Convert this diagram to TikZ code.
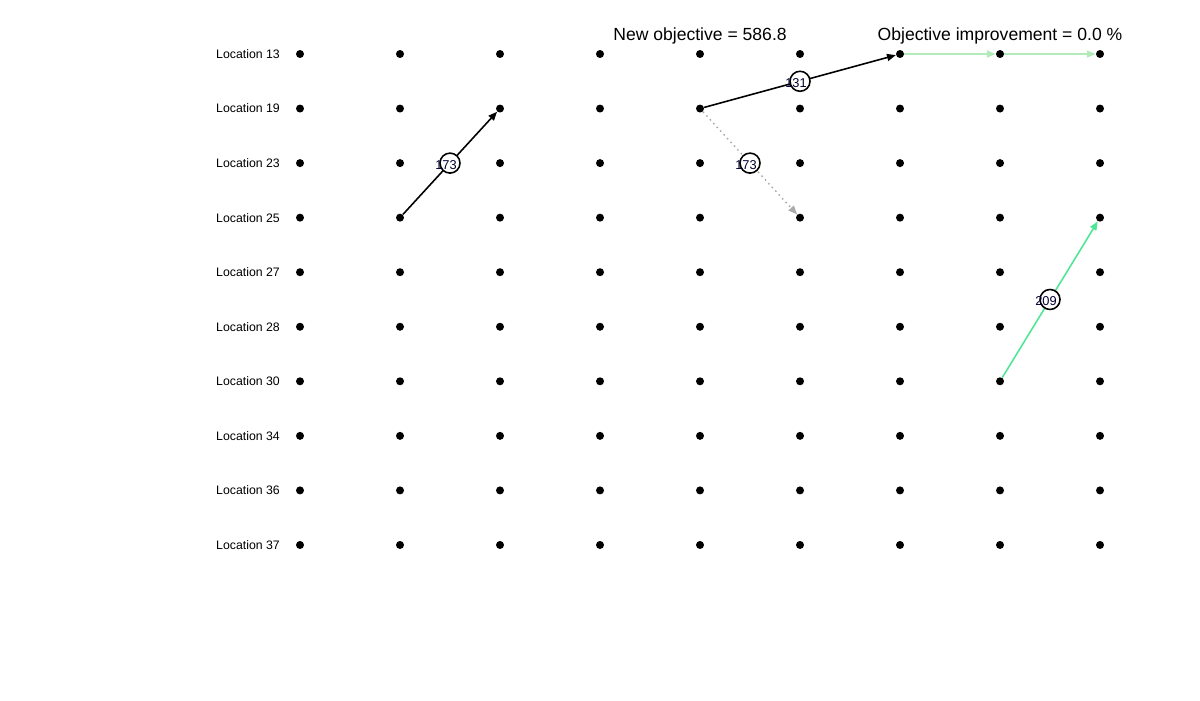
\documentclass[tikz,border=0pt]{standalone}
\usepackage{fontspec}
\setmainfont{Liberation Sans}
\usetikzlibrary{arrows.meta}
\definecolor{routegreen}{RGB}{80,230,150}
\definecolor{palegreen}{RGB}{178,235,185}
\definecolor{movegray}{RGB}{170,170,170}
\tikzset{
	dot/.style={circle, fill=black, inner sep=0pt, minimum size=0.16cm},
	rowlabel/.style={anchor=east, font=\fontsize{7}{8}\selectfont},
	costcircle/.style={circle, draw=black, fill=white, line width=0.9pt, minimum size=0.4cm, inner sep=0pt},
	costtext/.style={font=\fontsize{7.3}{8}\selectfont, text=black!80!blue},
	move/.style={line width=0.9pt, -{Triangle[length=5pt,width=4pt]}},
	title/.style={font=\fontsize{10}{12}\selectfont}
}
\begin{document}
\begin{tikzpicture}
		\def\xstart{6} % x of first column
		\def\ystart{-1.08} % y of first row
		\def\xgap{2} % Horizontal gap between columns
		\def\ygap{1.091} % Vertical gap between rows
		
		\useasboundingbox (0,0) rectangle (24,-14);
		
		% Draw the grid of locations
		\foreach \i/\loc in {1/13, 2/19, 3/23, 4/25, 5/27, 6/28, 7/30, 8/34, 9/36, 10/37} {
			\pgfmathsetmacro{\y}{\ystart - (\i-1) * \ygap}
			\node[rowlabel] (lab-\i) at (5.72, \y) {Location \loc};
			\foreach \j in {1, ..., 9} {
				\pgfmathsetmacro{\x}{\xstart + (\j-1) * \xgap}
				\node[dot] (p-\i-\j) at (\x, \y) {};
			}
		}
		
		% Moves
		\draw[move] (p-4-2) -- (p-2-3);
		\draw[move] (p-2-5) -- (p-1-7);
		\draw[move, movegray, dotted, line width=0.8pt] (p-2-5) -- (p-4-6);
		\draw[move, routegreen] (p-7-8) -- (p-4-9);
		\draw[move, palegreen] (p-1-7) -- (p-1-8);
		\draw[move, palegreen] (p-1-8) -- (p-1-9);
		
		% Cost labels
		\path (p-4-2) -- (p-2-3) node[costcircle, midway] (c1) {};
		\node[costtext, xshift=-0.08cm, yshift=-0.03cm] (t1) at (c1) {173};
		\path (p-2-5) -- (p-1-7) node[costcircle, midway] (c2) {};
		\node[costtext, xshift=-0.08cm, yshift=-0.03cm] (t2) at (c2) {131};
		\path (p-2-5) -- (p-4-6) node[costcircle, midway] (c3) {};
		\node[costtext, xshift=-0.08cm, yshift=-0.03cm] (t3) at (c3) {173};
		\path (p-7-8) -- (p-4-9) node[costcircle, midway] (c4) {};
		\node[costtext, xshift=-0.08cm, yshift=-0.03cm] (t4) at (c4) {209};
		
		\node[title] (newobj) at (14, -0.71) {New objective = 586.8};
		\node[title] (improve) at (20, -0.71) {Objective improvement = 0.0 \%};
	\end{tikzpicture}
\end{document}
